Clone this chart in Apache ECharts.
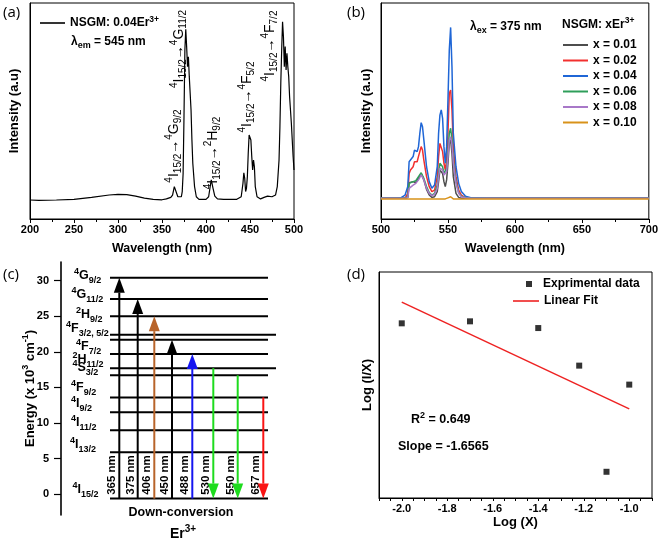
<!DOCTYPE html>
<html><head><meta charset="utf-8">
<script src="https://cdn.jsdelivr.net/npm/echarts@6/dist/echarts.min.js"></script>
<style>html,body{margin:0;padding:0;background:#fff}#c{width:661px;height:542px}</style>
</head><body><div id="c"></div>
<script>
// ---------------- DATA ----------------
// (a) excitation spectrum, NSGM: 0.04Er3+, λem = 545 nm
const aWavelength = [200,210,230,250,270,290,300,310,320,330,340,350,355,360,362,364,365,366,368,370,372,373,374,375,376,377,378,379,380,381,382,383,384,385,387,389,392,400,403,405,406,407,408,410,413,420,435,440,442,443,444,445,446,447,448,449,450,451,452,453,454,455,456,458,462,466,470,475,479,481,483,484,485,486,487,488,489,490,491,492,493,494,495,497,499,500];
const aIntensity = [8.8,8.6,8.8,9.1,10.0,11.1,11.4,11.3,10.6,9.7,9.1,8.9,9.3,10.0,11.1,15.0,15.7,14.2,10.3,9.6,10.3,12.7,21.1,47.4,78.2,87.8,79.8,70.5,75.1,65.9,58.2,50.5,36.6,25.8,15.0,10.3,9.1,9.1,10.3,15.7,18.1,17.3,14.2,10.6,9.3,9.1,9.1,10.3,16.5,21.4,18.8,12.7,14.2,19.6,30.4,38.9,39.7,36.6,28.9,22.7,27.3,24.2,15.0,10.3,9.3,10.0,10.6,10.3,11.1,15.0,27.3,42.7,62.8,78.2,91.3,84.4,70.5,79.8,69.0,76.7,70.5,65.9,56.6,44.3,28.9,22.7];
const aTicks = [200,250,300,350,400,450,500];

// (b) emission spectra, λex = 375 nm
const bWavelength = [500,512,515,518,520,521,522,524,525,526,527,528,529,530,531,532,534,536,538,540,542,543,544,545,546,547,548,549,550,551,552,553,554,556,558,560,563,567,580,700];
const bNames = ['x = 0.01','x = 0.02','x = 0.04','x = 0.06','x = 0.08','x = 0.10'];
const bX001 = [9.6,9.6,9.6,9.6,10.0,16.8,16.2,17.3,18.1,16.8,17.5,18.8,20.0,21.1,20.8,18.1,13.7,11.1,10.0,10.3,12.7,17.3,22.7,23.5,21.1,17.3,15.0,18.1,25.8,35.0,36.6,30.4,19.6,11.9,10.0,9.6,9.6,9.6,9.6,9.6];
const bX002 = [9.6,9.6,9.6,9.7,11.9,21.1,22.7,24.2,26.5,25.8,26.5,29.0,31.2,33.5,31.9,27.3,19.6,15.0,12.7,13.4,19.6,28.9,35.0,35.0,31.2,25.8,22.7,27.3,39.7,58.2,59.7,50.5,33.5,19.6,13.4,11.1,9.9,9.6,9.6,9.6];
const bX004 = [9.6,9.6,9.9,11.1,15.0,26.5,27.3,28.9,31.9,32.7,31.2,33.5,39.7,44.6,42.7,36.6,24.2,17.3,14.2,15.7,24.2,39.7,48.1,50.5,46.6,33.5,25.8,33.5,55.1,78.2,88.7,70.5,39.7,24.2,16.5,12.7,10.6,9.8,9.6,9.6];
const bX006 = [9.6,9.6,9.6,9.6,10.3,16.5,16.8,17.3,18.1,17.7,18.2,19.6,20.5,21.4,21.1,18.8,15.0,12.2,11.1,11.9,15.7,21.1,25.8,26.1,24.2,21.1,20.4,23.5,30.4,39.7,42.0,36.6,27.3,17.3,12.2,10.6,9.9,9.6,9.6,9.6];
const bX008 = [9.6,9.6,9.6,9.6,9.9,14.2,15.0,15.7,16.1,16.5,17.0,18.1,19.2,20.4,20.1,18.1,14.2,11.9,10.8,11.4,14.2,19.6,23.5,23.8,22.7,20.4,19.6,21.9,28.8,36.6,38.1,34.3,25.8,16.5,11.9,10.3,9.8,9.6,9.6,9.6];
const bX010 = [9.3,9.3,9.3,9.3,9.3,9.3,9.3,9.3,9.3,9.3,9.3,9.3,9.3,9.3,9.3,9.3,9.3,9.3,9.3,9.3,9.3,9.3,9.3,9.3,9.3,9.3,9.3,9.3,9.8,10.3,10.3,9.8,9.3,9.3,9.3,9.3,9.3,9.3,9.3,9.3];
const bTicks = [500,550,600,650,700];

// (c) Er3+ energy levels (x10^3 cm^-1) and transitions
const cLevelTerms = [['4','G','9/2'],['4','G','11/2'],['2','H','9/2'],['4','F','3/2, 5/2'],null,['4','F','7/2'],['2','H','11/2'],['4','S','3/2'],['4','F','9/2'],['4','I','9/2'],['4','I','11/2'],['4','I','13/2'],['4','I','15/2']];
const cLevelEnergy = [30.4,27.4,25.0,22.4,21.7,19.7,17.7,16.7,13.6,11.5,9.0,5.9,-0.6];
const cTransitionNm = [365,375,406,450,488,530,550,657];
const cTransitionFrom = [12,12,12,12,12,6,7,8];
const cTransitionTo = [0,1,2,4,5,12,12,12];
const cEnergyTicks = [0,5,10,15,20,25,30];

// (d) Log(I/X) vs Log(X)
const dLogX = [-2.0,-1.7,-1.4,-1.22,-1.1,-1.0];
const dLogIX = [2.705,2.736,2.632,2.05,0.406,1.756];
const dFitX = [-2.0,-1.0];
const dFitY = [3.034,1.380];
const dTicks = [-2.0,-1.8,-1.6,-1.4,-1.2,-1.0];

// ---------------- STYLE / LAYOUT ----------------
const FONT = '"Liberation Sans", Arial, Helvetica, sans-serif';
const bColors = ['#4d4d4d','#f2302f','#1f66d6','#2f9e5a','#a878c8','#d8921a'];
const cArrowColors = ['#000','#000','#b8642a','#000','#1515f0','#1edc1e','#1edc1e','#fa1414'];
const cArrowX = [58.3,76.7,93.3,111,131.3,152.3,176.7,202.3];   // positions inside (c) frame
const cLevelX0 = 49, cLevelX1 = 207, cLevelX1Long = 215;
const cLongLevels = [3,6];
const cLabelPos = [[74,276],[71.5,295],[76,315],[66,329],null,[76,347],[72.5,360],[72.5,368],[71,388],[71,404],[71,423],[70,445],[72.5,490]];

function rs(main, small, weight, lh) {
  return {
    n: {fontFamily: FONT, fontSize: main, fontWeight: weight, color: '#000', lineHeight: lh},
    p: {fontFamily: FONT, fontSize: small, fontWeight: weight, color: '#000', lineHeight: small + 1, verticalAlign: 'top'},
    b: {fontFamily: FONT, fontSize: small, fontWeight: weight, color: '#000', lineHeight: small + 1, verticalAlign: 'bottom'}
  };
}
function term(t) { return '{p|' + t[0] + '}{n|' + t[1] + '}{b|' + t[2] + '}'; }
const zip = (xs, ys) => xs.map((x, i) => [x, ys[i]]);
const blk = {color: '#000'};
const tickLab = {color: '#000', fontWeight: 'bold', fontSize: 11, fontFamily: FONT};
const legText = {fontFamily: FONT, fontWeight: 'bold', fontSize: 12, color: '#000'};

const chart = echarts.init(document.getElementById('c'), null, {renderer: 'canvas'});

const gridBox = {show: true, borderColor: '#000', borderWidth: 1, backgroundColor: 'transparent'};
const option = {
  animation: false,
  textStyle: {fontFamily: FONT},
  grid: [
    Object.assign({left: 30, top: 3, width: 264, height: 216}, gridBox),
    Object.assign({left: 381, top: 3, width: 268, height: 216}, gridBox),
    {left: 61, top: 262, width: 215, height: 253, show: false},
    Object.assign({left: 379, top: 272, width: 273, height: 226}, gridBox)
  ],
  xAxis: [
    {gridIndex: 0, type: 'value', min: 200, max: 500, interval: 50,
     axisLine: {show: true, lineStyle: blk}, axisTick: {length: 4, lineStyle: blk},
     minorTick: {show: true, splitNumber: 2, length: 3, lineStyle: blk},
     splitLine: {show: false}, axisLabel: Object.assign({margin: 5}, tickLab),
     name: 'Wavelength (nm)', nameLocation: 'middle', nameGap: 23,
     nameTextStyle: {color: '#000', fontWeight: 'bold', fontSize: 12.5, fontFamily: FONT}},
    {gridIndex: 1, type: 'value', min: 500, max: 700, interval: 50,
     axisLine: {show: true, lineStyle: blk}, axisTick: {length: 4, lineStyle: blk},
     minorTick: {show: true, splitNumber: 2, length: 3, lineStyle: blk},
     splitLine: {show: false}, axisLabel: Object.assign({margin: 5}, tickLab),
     name: 'Wavelength (nm)', nameLocation: 'middle', nameGap: 23,
     nameTextStyle: {color: '#000', fontWeight: 'bold', fontSize: 12.5, fontFamily: FONT}},
    {gridIndex: 2, type: 'value', min: 0, max: 215, show: false},
    {gridIndex: 3, type: 'value', min: -2.1, max: -0.9, interval: 0.05,
     axisLine: {show: true, lineStyle: blk}, axisTick: {length: 3, lineStyle: blk},
     splitLine: {show: false},
     axisLabel: Object.assign({margin: 5, interval: 0, formatter: v => {
       const k = Math.round(v * 20); return (k % 4 === 0) ? (k / 20).toFixed(1) : ''; }}, tickLab),
     name: 'Log (X)', nameLocation: 'middle', nameGap: 18,
     nameTextStyle: {color: '#000', fontWeight: 'bold', fontSize: 13, fontFamily: FONT}}
  ],
  yAxis: [
    {gridIndex: 0, type: 'value', min: 0, max: 100, axisLine: {show: true, lineStyle: blk},
     axisTick: {show: false}, axisLabel: {show: false}, splitLine: {show: false},
     name: 'Intensity (a.u)', nameLocation: 'middle', nameGap: 9,
     nameTextStyle: {color: '#000', fontWeight: 'bold', fontSize: 13, fontFamily: FONT}},
    {gridIndex: 1, type: 'value', min: 0, max: 100, axisLine: {show: true, lineStyle: blk},
     axisTick: {show: false}, axisLabel: {show: false}, splitLine: {show: false},
     name: 'Intensity (a.u)', nameLocation: 'middle', nameGap: 8,
     nameTextStyle: {color: '#000', fontWeight: 'bold', fontSize: 13, fontFamily: FONT}},
    {gridIndex: 2, type: 'value', min: -2.9, max: 32.6,
     axisLine: {show: true, lineStyle: {color: '#000', width: 1.6}},
     axisTick: {show: true, length: 7, customValues: cEnergyTicks, lineStyle: {color: '#000', width: 1.2}},
     axisLabel: Object.assign({margin: 12, customValues: cEnergyTicks}, tickLab),
     splitLine: {show: false},
     name: '{n|Energy (x 10}{p|3}{n| cm}{p|-1}{n|)}', nameLocation: 'middle', nameGap: 22, nameMoveOverlap: false,
     nameTextStyle: {rich: rs(13, 9, 'bold', 18)}},
    {gridIndex: 3, type: 'value', min: 0, max: 3.5, axisLine: {show: true, lineStyle: blk},
     axisTick: {show: false}, axisLabel: {show: false}, splitLine: {show: false},
     name: 'Log (I/X)', nameLocation: 'middle', nameGap: 5,
     nameTextStyle: {color: '#000', fontWeight: 'bold', fontSize: 13, fontFamily: FONT}}
  ],
  legend: [
    {data: [{name: 'NSGM: 0.04Er3+', icon: 'rect'}], left: 40, top: 15, padding: 0, itemWidth: 25, itemHeight: 1.6,
     formatter: () => '{t|NSGM: 0.04Er}{s|3+}',
     textStyle: {rich: {t: {fontFamily: FONT, fontWeight: 'bold', fontSize: 12, color: '#000', lineHeight: 16},
                        s: {fontFamily: FONT, fontWeight: 'bold', fontSize: 8.5, color: '#000', lineHeight: 9, verticalAlign: 'top'}}}},
    {data: bNames.map(n => ({name: n, icon: 'rect'})), orient: 'vertical', left: 563, top: 39, padding: 0,
     itemWidth: 25, itemHeight: 2, itemGap: 3.5, textStyle: legText},
    {data: ['Exprimental data'], left: 526, top: 278, padding: 0, itemWidth: 6, itemHeight: 6,
     textStyle: Object.assign({padding: [0, 0, 0, 6]}, legText)},
    {data: [{name: 'Linear Fit', icon: 'rect'}], left: 513, top: 295, padding: 0, itemWidth: 26, itemHeight: 1.6,
     textStyle: legText}
  ],
  series: []
};

option.series.push({name: 'NSGM: 0.04Er3+', type: 'line', xAxisIndex: 0, yAxisIndex: 0, symbol: 'none',
  data: zip(aWavelength, aIntensity), lineStyle: {color: '#000', width: 1.2}, itemStyle: {color: '#000'}});

[bX001, bX002, bX004, bX006, bX008, bX010].forEach((arr, i) => {
  option.series.push({name: bNames[i], type: 'line', xAxisIndex: 1, yAxisIndex: 1, symbol: 'none',
    data: zip(bWavelength, arr), lineStyle: {color: bColors[i], width: 1.5}, itemStyle: {color: bColors[i]}});
});

option.series.push({type: 'custom', xAxisIndex: 2, yAxisIndex: 2, silent: true, clip: false,
  encode: {x: [0, 1], y: 2},
  data: cLevelEnergy.map((e, i) => [cLevelX0, cLongLevels.includes(i) ? cLevelX1Long : cLevelX1, e]),
  renderItem: (params, api) => {
    const p0 = api.coord([api.value(0), api.value(2)]);
    const p1 = api.coord([api.value(1), api.value(2)]);
    return {type: 'line', shape: {x1: p0[0], y1: p0[1], x2: p1[0], y2: p1[1]}, style: {stroke: '#000', lineWidth: 2}};
  }});

option.series.push({type: 'custom', xAxisIndex: 2, yAxisIndex: 2, silent: true, clip: false,
  encode: {x: 0, y: [1, 2]},
  data: cTransitionNm.map((nm, i) => [cArrowX[i], cLevelEnergy[cTransitionFrom[i]], cLevelEnergy[cTransitionTo[i]], i]),
  renderItem: (params, api) => {
    const i = api.value(3);
    const p0 = api.coord([api.value(0), api.value(1)]);
    const p1 = api.coord([api.value(0), api.value(2)]);
    const dir = p1[1] > p0[1] ? 1 : -1;
    const hl = 15, hw = 5.5;
    const c = cArrowColors[i];
    return {type: 'group', children: [
      {type: 'line', shape: {x1: p0[0], y1: p0[1], x2: p1[0], y2: p1[1] - dir * hl}, style: {stroke: c, lineWidth: 2}},
      {type: 'polygon', shape: {points: [[p1[0], p1[1]], [p1[0] - hw, p1[1] - dir * hl], [p1[0] + hw, p1[1] - dir * hl]]}, style: {fill: c}}
    ]};
  }});

option.series.push({name: 'Exprimental data', type: 'scatter', xAxisIndex: 3, yAxisIndex: 3, symbol: 'rect', symbolSize: 6,
  data: zip(dLogX, dLogIX), itemStyle: {color: '#000'}});
option.series.push({name: 'Linear Fit', type: 'line', xAxisIndex: 3, yAxisIndex: 3, symbol: 'none',
  data: zip(dFitX, dFitY), lineStyle: {color: '#ee2222', width: 1.5}, itemStyle: {color: '#ee2222'}});

chart.setOption(option);

// ---------------- TEXT ANNOTATIONS ----------------
const g = [];
function txt(x, y, text, rich, opts) {
  g.push(Object.assign({type: 'text', x: x, y: y, silent: true,
    style: {text: text, rich: rich, align: 'left', verticalAlign: 'middle', fill: '#000'}}, opts || {}));
}
const panelFont = {fontFamily: '"Open Sans", "Liberation Sans", sans-serif', fontSize: 15, fill: '#000'};
[['(a)', 3, 13], ['(b)', 347, 13], ['(c)', 3, 275], ['(d)', 347, 275]].forEach(p => {
  g.push({type: 'text', x: p[1], y: p[2], silent: true, style: Object.assign({text: p[0], align: 'left', verticalAlign: 'middle'}, panelFont)});
});

const rB12 = rs(12, 9, 'bold', 17);
txt(71, 42, '{n|λ}{b|em}{n| = 545 nm}', rB12);
txt(470, 27, '{n|λ}{b|ex}{n| = 375 nm}', rB12);
txt(562, 25, '{n|NSGM: xEr}{p|3+}', rs(12, 8.5, 'bold', 17));

// (a) transition labels (rotated)
const rA = rs(14, 10, 'normal', 19);
const ground = ['4', 'I', '15/2'];
const aAnn = [[['4','G','9/2'], 174, 146], [['4','G','11/2'], 179, 49], [['2','H','9/2'], 213, 153], [['4','F','5/2'], 247, 97], [['4','F','7/2'], 270, 46]];
aAnn.forEach(a => {
  txt(a[1], a[2], term(ground) + '{n|→}' + term(a[0]), rA, {rotation: Math.PI / 2});
  g[g.length - 1].style.align = 'center';
});

// (c) level labels
const rC = rs(12.5, 9, 'bold', 18);
cLevelTerms.forEach((t, i) => {
  if (!t || !cLabelPos[i]) return;
  txt(cLabelPos[i][0], cLabelPos[i][1], term(t), rC);
});
// (c) transition wavelength labels
cTransitionNm.forEach((nm, i) => {
  const px = chart.convertToPixel({gridIndex: 2}, [cArrowX[i], 0]);
  g.push({type: 'text', x: px[0] - 7, y: 475, rotation: Math.PI / 2, silent: true,
    style: {text: nm + ' nm', align: 'center', verticalAlign: 'middle', fontFamily: FONT, fontWeight: 'bold', fontSize: 11.5, fill: '#000'}});
});
g.push({type: 'text', x: 181, y: 513, silent: true,
  style: {text: 'Down-conversion', align: 'center', verticalAlign: 'middle', fontFamily: FONT, fontWeight: 'bold', fontSize: 12.5, fill: '#000'}});
txt(183, 534, '{n|Er}{p|3+}', rs(14, 10, 'bold', 19));
g[g.length - 1].style.align = 'center';

// (d) stats
txt(411, 420, '{n|R}{p|2}{n| = 0.649}', rs(12.5, 9, 'bold', 18));
txt(398, 447, '{n|Slope = -1.6565}', rs(12.5, 9, 'bold', 18));

chart.setOption({graphic: g});
</script>
</body></html>
